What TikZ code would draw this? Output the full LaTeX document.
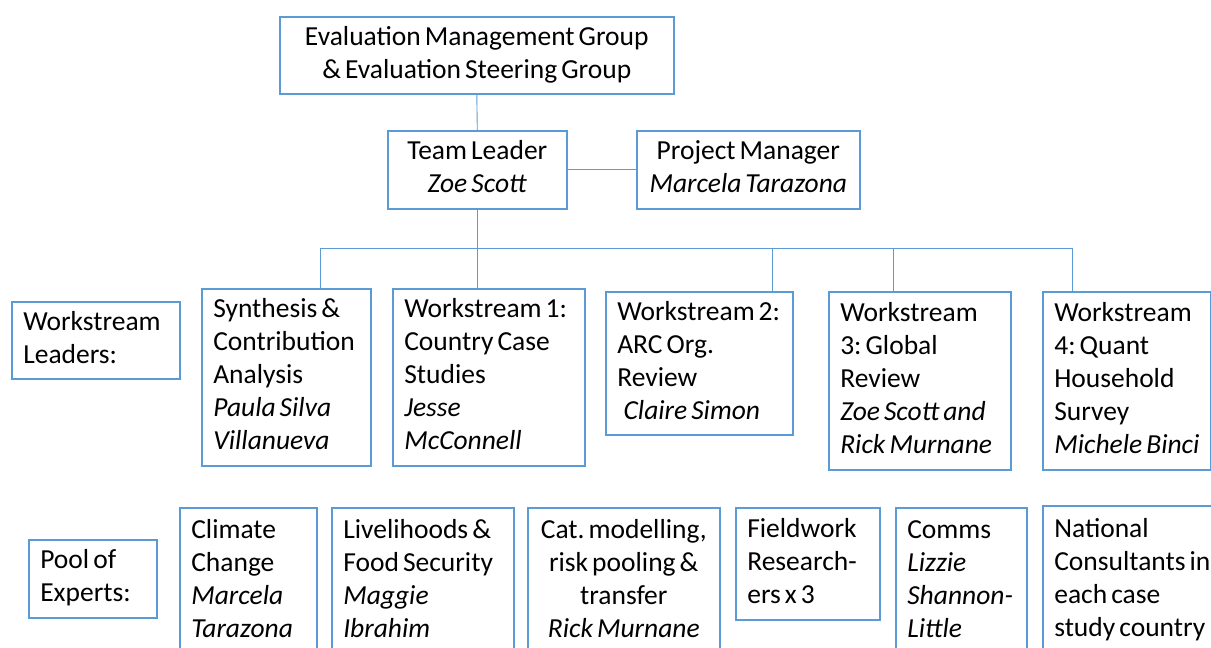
\documentclass[tikz,border=0pt]{standalone}
\usepackage{fontspec}
\setmainfont{Carlito}[WordSpace={0.65,0,0}]
\frenchspacing
\definecolor{boxblue}{HTML}{5B9BD5}
\newcommand\lft[1]{{\spaceskip=\fontdimen2\font\xspaceskip=\fontdimen2\font\begin{tabular}{@{}l@{}}#1\end{tabular}}}
\newcommand\ctr[1]{\begin{tabular}{@{}c@{}}#1\end{tabular}}
\begin{document}
\begin{tikzpicture}[x=1pt,y=-1pt,
  every node/.style={font=\fontsize{27.5}{33}\selectfont},
  boxl/.style={draw=boxblue,line width=1.6pt,fill=white,inner xsep=11.5pt,inner ysep=0pt,align=left,anchor=north west},
  boxc/.style={draw=boxblue,line width=1.6pt,fill=white,inner sep=0pt,align=center,anchor=north west},
  conn/.style={draw=boxblue,line width=0.9pt}]
\useasboundingbox (0,0) rectangle (1211,648);
\clip (0,0) rectangle (1211,648);
% top rows
\node[boxc,minimum width=394pt,minimum height=77pt] (top) at (279,16) {\ctr{Evaluation Management Group\\\& Evaluation Steering Group}};
\node[boxc,minimum width=179pt,minimum height=78pt] (tl) at (387,130) {\ctr{Team Leader\\\textit{Zoe Scott}}};
\node[boxc,minimum width=223pt,minimum height=78pt] (pm) at (636,130) {\ctr{Project Manager\\\textit{Marcela Tarazona}}};
% workstream row
\node[boxl,minimum width=168pt,minimum height=77pt,text width=145pt] (wsl) at (11,301) {\lft{Workstream\\Leaders:}};
\node[boxl,minimum width=169pt,minimum height=177pt,text width=146pt] (syn) at (201,288) {\lft{Synthesis \&\\Contribution\\Analysis\\\textit{Paula Silva}\\\textit{Villanueva}}};
\node[boxl,minimum width=192pt,minimum height=177pt,text width=169pt] (ws1) at (392,288) {\lft{Workstream 1:\\Country Case\\Studies\\\textit{Jesse}\\\textit{McConnell}}};
\node[boxl,minimum width=187pt,minimum height=143pt,text width=164pt] (ws2) at (605,291) {\lft{Workstream 2:\\ARC Org.\\Review\\\hspace*{0.23em}\textit{Claire Simon}}};
\node[boxl,minimum width=182pt,minimum height=178pt,text width=159pt] (ws3) at (828,291) {\lft{Workstream\\3: Global\\Review\\\textit{Zoe Scott and}\\\textit{Rick Murnane}}};
\node[boxl,minimum width=168pt,minimum height=178pt,text width=145pt] (ws4) at (1042,291) {\lft{Workstream\\4: Quant\\Household\\Survey\\\textit{Michele Binci}}};
% experts row
\node[boxl,minimum width=128pt,minimum height=78pt,text width=105pt] (pool) at (28,539) {\lft{Pool of\\Experts:}};
\node[boxl,minimum width=137pt,minimum height=148pt,text width=114pt] (cc) at (179,507) {\lft{Climate\\Change\\\textit{Marcela}\\\textit{Tarazona}}};
\node[boxl,minimum width=182pt,minimum height=148pt,text width=159pt] (lfs) at (331,507) {\lft{Livelihoods \&\\Food Security\\\textit{Maggie}\\\textit{Ibrahim}}};
\node[boxc,minimum width=192pt,minimum height=148pt] (cat) at (527,507) {\ctr{Cat. modelling,\\risk pooling \&\\transfer\\\textit{Rick Murnane}}};
\node[boxl,minimum width=144pt,minimum height=112pt,text width=121pt] (fw) at (735,507) {\lft{Fieldwork\\Research-\\ers x 3}};
\node[boxl,minimum width=131pt,minimum height=148pt,text width=108pt] (com) at (895,507) {\lft{Comms\\\textit{Lizzie}\\\textit{Shannon-}\\\textit{Little}}};
\node[boxl,minimum width=180pt,minimum height=149pt,text width=157pt] (nat) at (1042,505) {\lft{National\\Consultants in\\each case\\study country}};
% connectors
\coordinate (d1) at (320,248);
\coordinate (d3) at (772,248);
\coordinate (d4) at (893,248);
\coordinate (d5) at (1072,248);
\draw[conn] (top.south) -- (tl.north);
\draw[conn] (tl.east) -- (pm.west);
\draw[conn] (tl.south) -- (tl.south |- ws1.north);
\draw[conn] (d1) -- (d5);
\draw[conn] (d1) -- (d1 |- syn.north);
\draw[conn] (d3) -- (d3 |- ws2.north);
\draw[conn] (d4) -- (d4 |- ws3.north);
\draw[conn] (d5) -- (d5 |- ws4.north);
\end{tikzpicture}
\end{document}
